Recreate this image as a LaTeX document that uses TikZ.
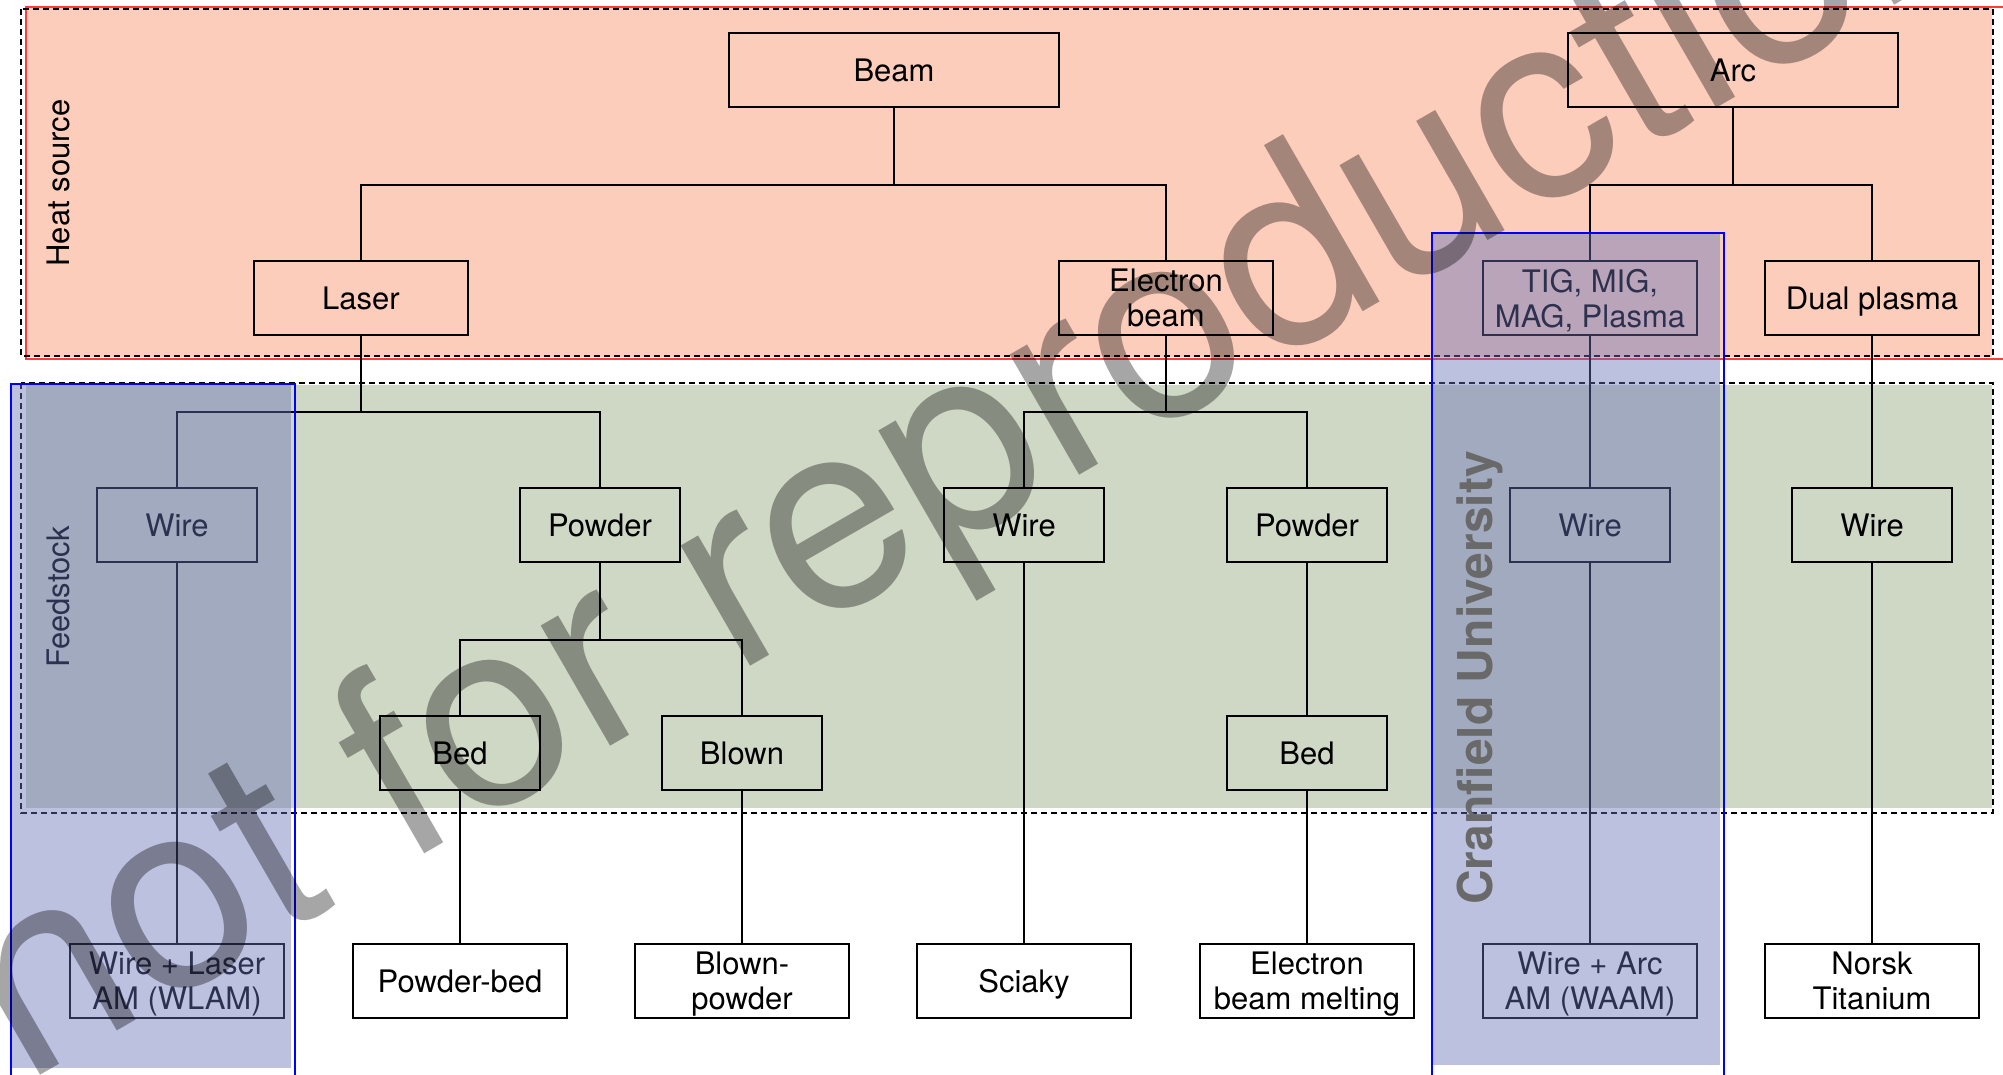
\documentclass[tikz,border=0pt]{standalone}
\usepackage{fontspec}
\setmainfont{TeX Gyre Heros}

\definecolor{heatfill}{RGB}{252,205,187}
\definecolor{feedfill}{RGB}{207,216,197}
\definecolor{zonered}{RGB}{255,60,60}
\definecolor{markfill}{RGB}{104,113,184}
\definecolor{markline}{RGB}{0,0,255}
\definecolor{unigray}{RGB}{105,105,105}

\begin{document}
\begin{tikzpicture}[x=1pt, y=-1pt,
    boxbase/.style={draw, line width=1.6pt, minimum height=74pt, inner sep=0pt,
      align=center, text depth=0pt, font=\fontsize{31}{35}\selectfont},
    topbox/.style={boxbase, minimum width=330pt},
    procbox/.style={boxbase, minimum width=214pt},
    feedbox/.style={boxbase, minimum width=160pt},
    link/.style={line width=1.4pt},
    zone/.style={dashed, dash pattern=on 6pt off 4pt, line width=1.6pt},
    overlay/.style={fill=markfill, fill opacity=0.44},
    overlayline/.style={draw=markline, line width=2.2pt},
    sidelabel/.style={rotate=90, anchor=base, font=\fontsize{31}{35}\selectfont}]
  \useasboundingbox (0,0) rectangle (2003,1074);

  % background bands
  \fill[heatfill] (26,8) rectangle (1992,357);
  \draw[zonered, line width=1.2pt] (26,7) rectangle (2012,359);
  \draw[zone] (21,9) rectangle (1993,356);
  \fill[feedfill] (26,385) rectangle (1992,808);
  \draw[zone] (21,383) rectangle (1993,813);

  \node[sidelabel] (heatlabel) at (69,183) {Heat source};
  \node[sidelabel] (feedlabel) at (69,597) {Feedstock};

  % heat source
  \node[topbox] (beam) at (894,70) {Beam};
  \node[topbox] (arc) at (1733,70) {Arc};
  \node[procbox] (laser) at (361,298) {Laser};
  \node[procbox] (ebeam) at (1166,298) {Electron\\beam};
  \node[procbox] (tig) at (1590,298) {TIG, MIG,\\MAG, Plasma};
  \node[procbox] (dual) at (1872,298) {Dual plasma};

  % feedstock
  \node[feedbox] (wirea) at (177,525) {Wire};
  \node[feedbox] (powdera) at (600,525) {Powder};
  \node[feedbox] (wireb) at (1024,525) {Wire};
  \node[feedbox] (powderb) at (1307,525) {Powder};
  \node[feedbox] (wirec) at (1590,525) {Wire};
  \node[feedbox] (wired) at (1872,525) {Wire};
  \node[feedbox] (beda) at (460,753) {Bed};
  \node[feedbox] (blown) at (742,753) {Blown};
  \node[feedbox] (bedb) at (1307,753) {Bed};

  % processes
  \node[procbox] (wlam) at (177,981) {Wire + Laser\\AM (WLAM)};
  \node[procbox] (pbed) at (460,981) {Powder-bed};
  \node[procbox] (bpowder) at (742,981) {Blown-\\powder};
  \node[procbox] (sciaky) at (1024,981) {Sciaky};
  \node[procbox] (ebm) at (1307,981) {Electron\\beam melting};
  \node[procbox] (waam) at (1590,981) {Wire + Arc\\AM (WAAM)};
  \node[procbox] (norsk) at (1872,981) {Norsk\\Titanium};

  % tree links
  \draw[link] (beam.south) -- ++(0,77) coordinate (beambus);
  \draw[link] (laser.north) |- (beambus) -| (ebeam.north);
  \draw[link] (arc.south) -- ++(0,77) coordinate (arcbus);
  \draw[link] (tig.north) |- (arcbus) -| (dual.north);

  \draw[link] (laser.south) -- ++(0,76) coordinate (laserbus);
  \draw[link] (wirea.north) |- (laserbus) -| (powdera.north);
  \draw[link] (ebeam.south) -- ++(0,76) coordinate (ebeambus);
  \draw[link] (wireb.north) |- (ebeambus) -| (powderb.north);
  \draw[link] (tig) -- (wirec);
  \draw[link] (dual) -- (wired);

  \draw[link] (powdera.south) -- ++(0,77) coordinate (powderbus);
  \draw[link] (beda.north) |- (powderbus) -| (blown.north);
  \draw[link] (powderb) -- (bedb);

  \draw[link] (wirea) -- (wlam);
  \draw[link] (beda) -- (pbed);
  \draw[link] (blown) -- (bpowder);
  \draw[link] (wireb) -- (sciaky);
  \draw[link] (bedb) -- (ebm);
  \draw[link] (wirec) -- (waam);
  \draw[link] (wired) -- (norsk);

  % wire-fed highlights
  \fill[overlay] (12,384) rectangle (291,1068);
  \draw[overlayline] (11,384) rectangle (295,1090);
  \fill[overlay] (1433,234) rectangle (1720,1065);
  \draw[overlayline] (1432,233) rectangle (1724,1090);
  \node[rotate=90, anchor=base, text=unigray,
    font=\bfseries\fontsize{48}{52}\selectfont] (unilabel) at (1492,678) {Cranfield University};

  % watermark
  \node[rotate=30, anchor=base west, inner sep=0pt, text opacity=0.35,
    font=\fontsize{265}{300}\selectfont] (stamp) at (24,1085) {not for reproduction};
\end{tikzpicture}
\end{document}
